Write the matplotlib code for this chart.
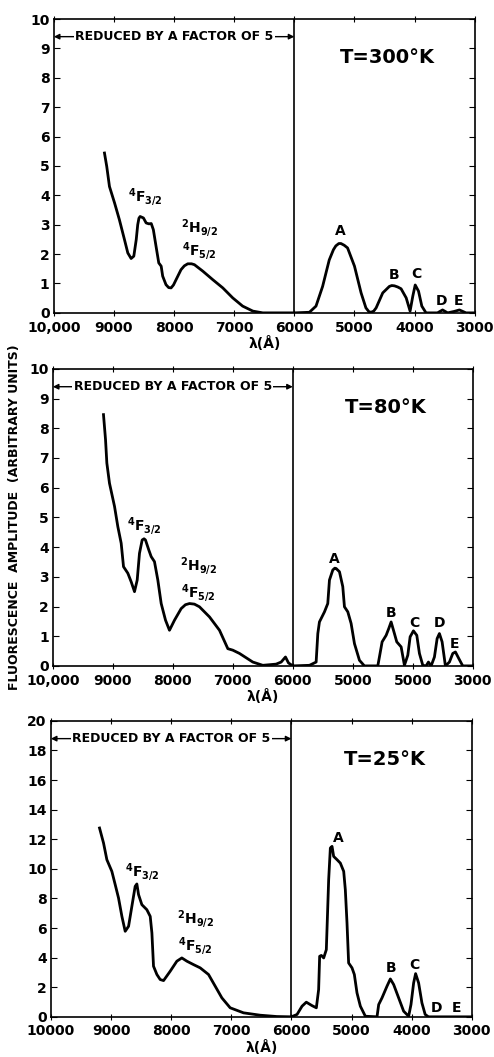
import matplotlib.pyplot as plt

# T = 300 K
wl_300 = [9158, 9120, 9075, 8990, 8910, 8825, 8770, 8715, 8670, 8630, 8605, 8585, 8565, 8510, 8465,
          8420, 8380, 8345, 8300, 8255, 8215, 8190, 8135, 8090, 8050, 8010, 7967, 7885, 7830, 7773,
          7710, 7662, 7523, 7357, 7190, 7025, 6860, 6690, 6525, 6000,
          5750, 5640, 5530, 5420, 5350, 5310, 5260, 5225, 5170, 5115, 5000, 4890, 4810, 4760, 4725,
          4680, 4640, 4530, 4420, 4380, 4335, 4280, 4225, 4140, 4075, 4030, 3990, 3935, 3880,
          3810, 3700, 3620, 3535, 3450, 3340, 3255, 3145, 3000]
amp_300 = [5.44, 4.98, 4.30, 3.74, 3.17, 2.49, 2.04, 1.85, 1.93, 2.49, 3.0, 3.22, 3.28, 3.23, 3.06,
           3.03, 3.04, 2.83, 2.26, 1.70, 1.59, 1.25, 0.96, 0.86, 0.85, 0.95, 1.13, 1.47, 1.60, 1.67,
           1.67, 1.64, 1.42, 1.13, 0.85, 0.51, 0.23, 0.06, 0.0, 0.0,
           0.02, 0.23, 0.9, 1.8, 2.15, 2.28, 2.36, 2.36, 2.30, 2.21, 1.59, 0.68, 0.17, 0.04, 0.02,
           0.06, 0.17, 0.68, 0.9, 0.93, 0.92, 0.88, 0.82, 0.51, 0.06, 0.57, 0.95, 0.74, 0.23,
           0.0, 0.0, 0.0, 0.1, 0.0, 0.05, 0.1, 0.0, 0.0]

# T = 80 K
wl_80 = [9156, 9122, 9100, 9056, 8972, 8917, 8861, 8822, 8750, 8694, 8639, 8594, 8556, 8511,
         8480, 8456, 8400, 8361, 8306, 8250, 8194, 8122, 8056, 7972, 7861, 7790, 7722, 7640, 7556,
         7389, 7222, 7083, 7000, 6889, 6667, 6500, 6278, 6194, 6122, 6072, 6000,
         5722, 5611, 5583, 5556, 5472, 5417, 5389, 5333, 5300, 5278, 5222, 5167, 5139, 5083, 5028,
         4972, 4889, 4806, 4583, 4556, 4511, 4444, 4400, 4361, 4306, 4267, 4194, 4139, 4083,
         4044, 3989, 3933, 3889, 3833, 3778, 3739, 3694, 3639, 3594, 3556, 3511, 3456, 3389,
         3333, 3289, 3233, 3167, 3000]
amp_80 = [8.46, 7.62, 6.83, 6.15, 5.37, 4.69, 4.13, 3.34, 3.12, 2.83, 2.50, 2.89, 3.79, 4.24,
          4.28, 4.24, 3.90, 3.68, 3.51, 2.89, 2.10, 1.54, 1.20, 1.54, 1.93, 2.06, 2.10, 2.08, 1.99,
          1.65, 1.20, 0.58, 0.53, 0.42, 0.13, 0.02, 0.06, 0.13, 0.30, 0.10, 0.0,
          0.02, 0.13, 1.09, 1.48, 1.82, 2.10, 2.89, 3.23, 3.29, 3.28, 3.17, 2.67, 1.99, 1.82, 1.43,
          0.75, 0.19, 0.0, 0.0, 0.3, 0.81, 1.03, 1.26, 1.48, 1.09, 0.81, 0.64, 0.02, 0.36,
          0.98, 1.18, 1.03, 0.42, 0.02, 0.0, 0.13, 0.0, 0.30, 0.92, 1.09, 0.81, 0.0, 0.13,
          0.42, 0.47, 0.25, 0.0, 0.0]

# T = 25 K
wl_25 = [9191, 9124, 9069, 8986, 8930, 8875, 8819, 8764, 8708, 8653, 8598, 8570, 8542, 8487,
         8404, 8348, 8320, 8293, 8237, 8182, 8126, 8016, 7905, 7822, 7738, 7628, 7517, 7378,
         7267, 7156, 7018, 6796, 6519, 6242, 6000,
         5906, 5823, 5752, 5658, 5585, 5547, 5530, 5502, 5463, 5419, 5380, 5352, 5324, 5297,
         5241, 5186, 5130, 5103, 5075, 5048, 4992, 4953, 4909, 4853, 4770, 4576, 4548, 4493,
         4410, 4354, 4299, 4216, 4133, 4050, 4011, 3967, 3934, 3884, 3829, 3775, 3720, 3000]
amp_25 = [12.76, 11.74, 10.62, 9.83, 8.93, 8.03, 6.79, 5.78, 6.12, 7.47, 8.82, 8.98, 8.26, 7.58,
          7.24, 6.79, 5.67, 3.42, 2.86, 2.52, 2.45, 3.08, 3.76, 3.98, 3.76, 3.53, 3.31, 2.86,
          2.07, 1.28, 0.61, 0.27, 0.11, 0.02, 0.0,
          0.16, 0.72, 0.99, 0.76, 0.61, 1.84, 4.09, 4.15, 3.98, 4.54, 9.27, 11.41, 11.52, 10.84,
          10.62, 10.39, 9.83, 8.59, 6.34, 3.64, 3.31, 2.86, 1.62, 0.72, 0.04, 0.0, 0.83, 1.28,
          2.07, 2.56, 2.18, 1.28, 0.38, 0.04, 0.83, 2.29, 2.92, 2.29, 0.94, 0.16, 0.0, 0.0]

x_ticks = [10000, 9000, 8000, 7000, 6000, 5000, 4000, 3000]
x_labels_300 = ['10,000', '9000', '8000', '7000', '6000', '5000', '4000', '3000']
x_labels_80 = ['10,000', '9000', '8000', '7000', '6000', '5000', '5000', '3000']
x_labels_25 = ['10000', '9000', '8000', '7000', '6000', '5000', '4000', '3000']

temps = ['T=300°K', 'T=80°K', 'T=25°K']
peak_labels = ['A', 'B', 'C', 'D', 'E']
peak_pos_300 = [(5240, 2.55), (4335, 1.05), (3975, 1.1), (3550, 0.15), (3270, 0.15)]
peak_pos_80 = [(5300, 3.35), (4360, 1.55), (3975, 1.2), (3555, 1.2), (3300, 0.5)]
peak_pos_25 = [(5213, 11.6), (4350, 2.8), (3960, 3.05), (3590, 0.1), (3260, 0.1)]
# (x, y) centres of level labels: 4F3/2, 2H9/2, 4F5/2
level_pos = [[(8470, 3.95), (7580, 2.88), (7580, 2.1)],
             [(8470, 4.7), (7580, 3.35), (7580, 2.45)],
             [(8480, 9.8), (7600, 6.6), (7600, 4.75)]]

plt.rcParams['font.family'] = 'DejaVu Sans'
plt.rcParams['font.weight'] = 'bold'
plt.rcParams['mathtext.fontset'] = 'dejavusans'

fig = plt.figure(figsize=(4.94, 10.57), dpi=100)
boxes = [[0.109, 0.704, 0.852, 0.278],
         [0.107, 0.370, 0.850, 0.281],
         [0.103, 0.038, 0.852, 0.280]]

panels = [
    (wl_300, amp_300, x_labels_300, 10, 1, peak_pos_300),
    (wl_80, amp_80, x_labels_80, 10, 1, peak_pos_80),
    (wl_25, amp_25, x_labels_25, 20, 2, peak_pos_25),
]

for i, (wl, amp, xl, ymax, ystep, ppos) in enumerate(panels):
    ax = fig.add_axes(boxes[i])
    ax.plot(wl, amp, color='black', lw=2.0, solid_joinstyle='round')
    ax.set_xlim(10000, 3000)
    ax.set_ylim(0, ymax)
    ax.axvline(6000, color='black', lw=1.2)
    ax.set_xticks(x_ticks)
    ax.set_xticklabels(xl, fontsize=10, fontweight='bold')
    ax.set_yticks(range(0, ymax + 1, ystep))
    ax.set_yticklabels([str(v) for v in range(0, ymax + 1, ystep)], fontsize=10, fontweight='bold')
    ax.tick_params(axis='y', direction='in', length=4, right=True, left=True, pad=3)
    ax.tick_params(axis='x', direction='inout', length=5, top=True, bottom=True, pad=3)
    for s in ax.spines.values():
        s.set_linewidth(1.2)
    ax.set_xlabel('λ(Å)', fontsize=10, fontweight='bold', labelpad=1)

    # reduced-by-5 arrow
    ya = ymax * 0.94
    ax.annotate('', xy=(10000, ya), xytext=(6000, ya),
                arrowprops=dict(arrowstyle='<|-|>', color='black', lw=1.0,
                                shrinkA=0, shrinkB=0, mutation_scale=8))
    ax.text(8000, ya, 'REDUCED BY A FACTOR OF 5', ha='center', va='center',
            fontsize=9, fontweight='bold',
            bbox=dict(facecolor='white', edgecolor='none', pad=1))
    ax.text(4450, ymax * 0.87, temps[i], ha='center', va='center', fontsize=14)

    # level labels
    lv = level_pos[i]
    ax.text(lv[0][0], lv[0][1], r'$^{4}\mathrm{F}_{3/2}$', ha='center', va='center', fontsize=10)
    ax.text(lv[1][0], lv[1][1], r'$^{2}\mathrm{H}_{9/2}$', ha='center', va='center', fontsize=10)
    ax.text(lv[2][0], lv[2][1], r'$^{4}\mathrm{F}_{5/2}$', ha='center', va='center', fontsize=10)

    for lab, (px, py) in zip(peak_labels, ppos):
        ax.text(px, py, lab, ha='center', va='bottom', fontsize=10)

    if i == 1:
        ax.set_ylabel('FLUORESCENCE  AMPLITUDE  (ARBITRARY UNITS)', fontsize=9,
                      fontweight='bold', labelpad=6)

fig.savefig('out.png', dpi=100)
